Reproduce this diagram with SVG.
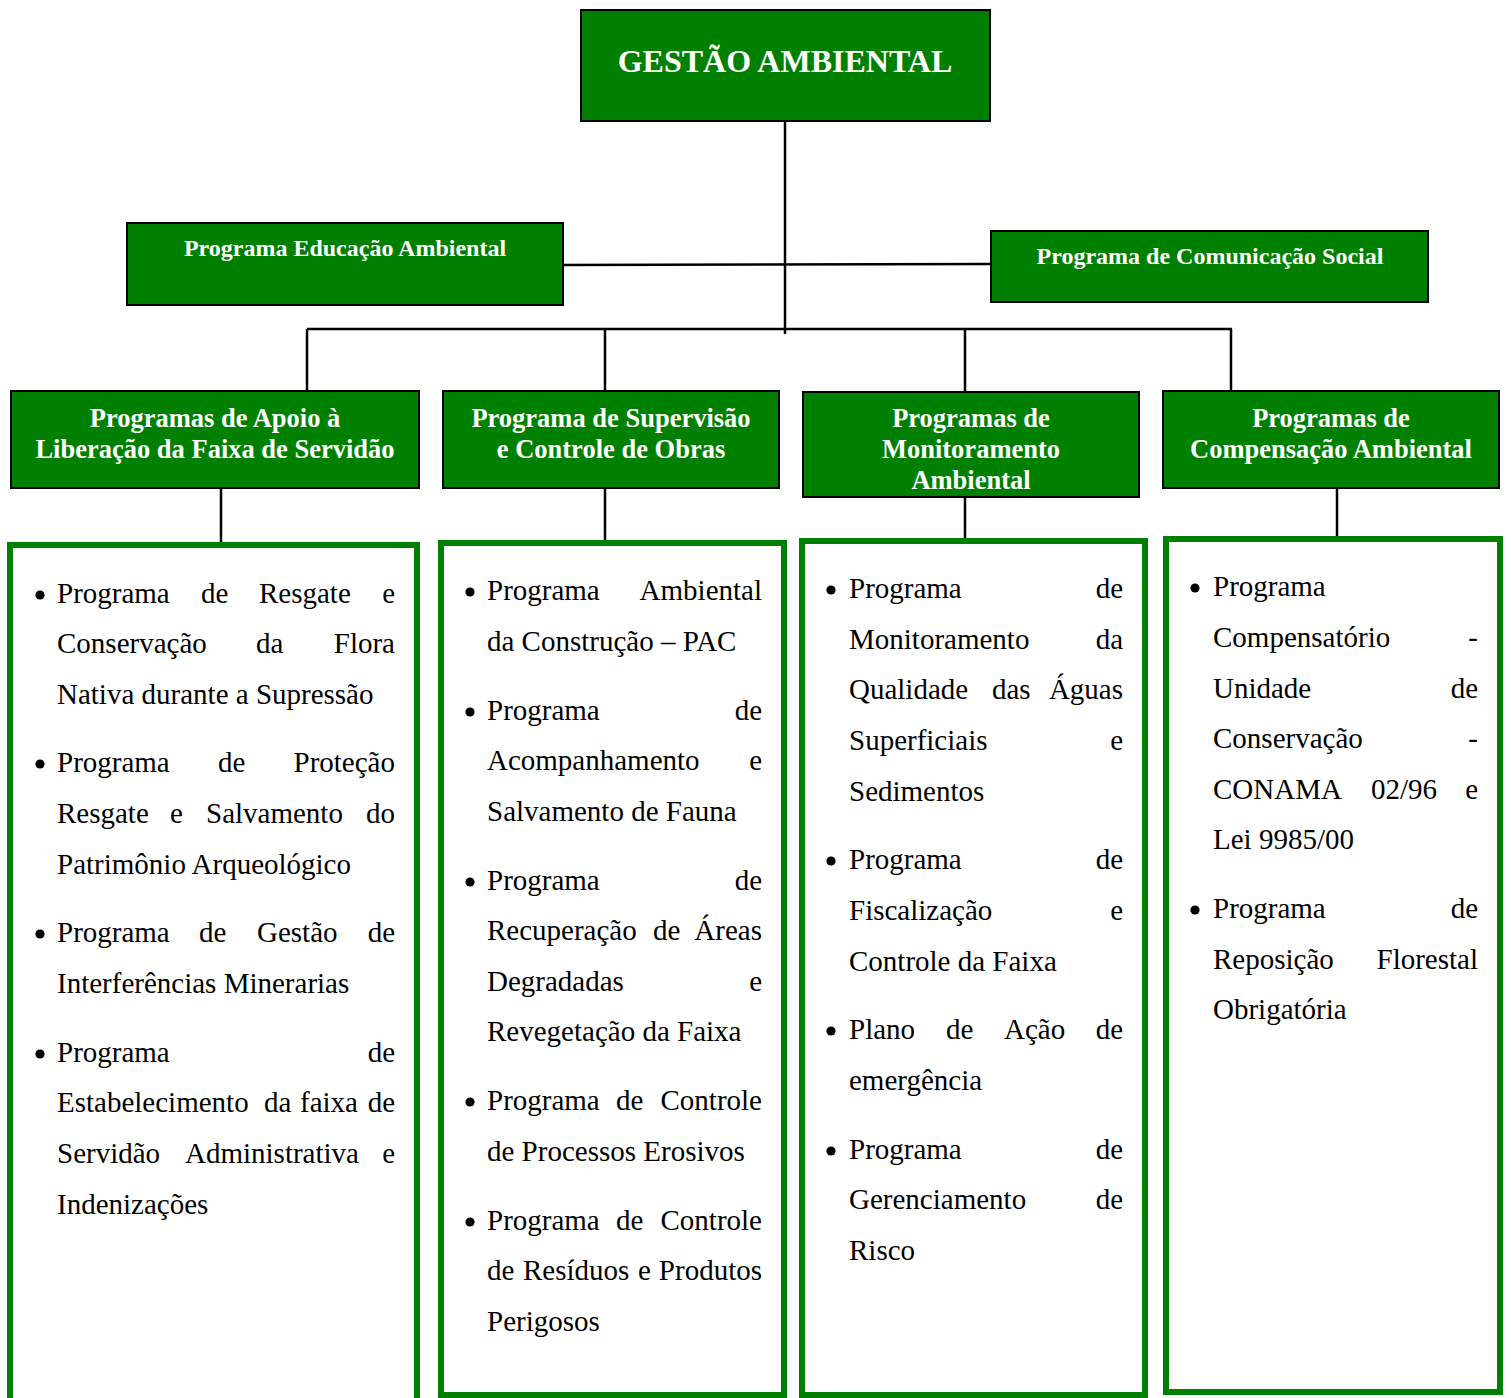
<svg xmlns="http://www.w3.org/2000/svg" width="1511" height="1398" viewBox="0 0 1511 1398">
<style>
.hb{fill:#008000;stroke:#000;stroke-width:2}
.lb{fill:#fff;stroke:#008000;stroke-width:6}
.h{font-family:"Liberation Serif","Times New Roman",serif;font-weight:bold;fill:#fff;text-anchor:middle}
.t{font-family:"Liberation Serif","Times New Roman",serif;font-size:29px;fill:#000}
.e{text-anchor:end}
.c{stroke:#000;stroke-width:2.5;fill:none}
.b{fill:#000}
</style>
<defs><circle id="bul" r="4.6" class="b"/></defs>
<rect width="1511" height="1398" fill="#fff"/>
<g id="connectors">
<line class="c" x1="785" y1="114" x2="785" y2="334"/>
<line class="c" x1="558" y1="265" x2="992" y2="264"/>
<line class="c" x1="307" y1="329" x2="1232" y2="329"/>
<line class="c" x1="307" y1="329" x2="307" y2="392"/>
<line class="c" x1="605" y1="329" x2="605" y2="392"/>
<line class="c" x1="965" y1="329" x2="965" y2="393"/>
<line class="c" x1="1231" y1="329" x2="1231" y2="392"/>
<line class="c" x1="221" y1="488" x2="221" y2="543"/>
<line class="c" x1="605" y1="488" x2="605" y2="541"/>
<line class="c" x1="965" y1="497" x2="965" y2="539"/>
<line class="c" x1="1337" y1="488" x2="1337" y2="537"/>
</g>
<g id="gestao">
<rect class="hb" x="581" y="10" width="409" height="111"/>
<text class="h" x="785" y="72" font-size="32">GESTÃO AMBIENTAL</text>
</g>
<g id="educacao">
<rect class="hb" x="127" y="223" width="436" height="82"/>
<text class="h" x="345" y="256" font-size="24">Programa Educação Ambiental</text>
</g>
<g id="comunicacao">
<rect class="hb" x="991" y="231" width="437" height="71"/>
<text class="h" x="1210" y="264" font-size="24">Programa de Comunicação Social</text>
</g>
<g id="apoio">
<rect class="hb" x="11" y="391" width="408" height="97"/>
<text class="h" x="215" y="427" font-size="26.5">Programas de Apoio à</text>
<text class="h" x="215" y="458" font-size="26.5">Liberação da Faixa de Servidão</text>
</g>
<g id="supervisao">
<rect class="hb" x="443" y="391" width="336" height="97"/>
<text class="h" x="611" y="427" font-size="26.5">Programa de Supervisão</text>
<text class="h" x="611" y="458" font-size="26.5">e Controle de Obras</text>
</g>
<g id="monitoramento">
<rect class="hb" x="803" y="392" width="336" height="105"/>
<text class="h" x="971" y="427" font-size="26.5">Programas de</text>
<text class="h" x="971" y="458" font-size="26.5">Monitoramento</text>
<text class="h" x="971" y="489" font-size="26.5">Ambiental</text>
</g>
<g id="compensacao">
<rect class="hb" x="1163" y="391" width="336" height="97"/>
<text class="h" x="1331" y="427" font-size="26.5">Programas de</text>
<text class="h" x="1331" y="458" font-size="26.5">Compensação Ambiental</text>
</g>
<g id="lista-apoio">
<rect class="lb" x="10" y="545" width="407" height="870"/>
<use href="#bul" x="40" y="595"/><use href="#bul" x="40" y="764"/><use href="#bul" x="40" y="934"/><use href="#bul" x="40" y="1054"/>
<g class="t">
<text x="57" y="603">Programa</text><text x="201" y="603">de</text><text x="259" y="603">Resgate</text><text class="e" x="395" y="603">e</text>
<text x="57" y="653">Conservação</text><text x="256" y="653">da</text><text class="e" x="395" y="653">Flora</text>
<text x="57" y="704">Nativa durante a Supressão</text>
<text x="57" y="772">Programa</text><text x="218" y="772">de</text><text class="e" x="395" y="772">Proteção</text>
<text x="57" y="823">Resgate</text><text x="170" y="823">e</text><text x="206" y="823">Salvamento</text><text class="e" x="395" y="823">do</text>
<text x="57" y="874">Patrimônio Arqueológico</text>
<text x="57" y="942">Programa</text><text x="199" y="942">de</text><text x="257" y="942">Gestão</text><text class="e" x="395" y="942">de</text>
<text x="57" y="993">Interferências Minerarias</text>
<text x="57" y="1062">Programa</text><text class="e" x="395" y="1062">de</text>
<text x="57" y="1112">Estabelecimento</text><text x="264" y="1112">da</text><text x="300" y="1112">faixa</text><text class="e" x="395" y="1112">de</text>
<text x="57" y="1163">Servidão</text><text x="185" y="1163">Administrativa</text><text class="e" x="395" y="1163">e</text>
<text x="57" y="1214">Indenizações</text>
</g>
</g>
<g id="lista-supervisao">
<rect class="lb" x="441" y="543" width="343" height="852"/>
<use href="#bul" x="470" y="592"/><use href="#bul" x="470" y="712"/><use href="#bul" x="470" y="882"/><use href="#bul" x="470" y="1102"/><use href="#bul" x="470" y="1222"/>
<g class="t">
<text x="487" y="600">Programa</text><text class="e" x="762" y="600">Ambiental</text>
<text x="487" y="651">da Construção – PAC</text>
<text x="487" y="720">Programa</text><text class="e" x="762" y="720">de</text>
<text x="487" y="770">Acompanhamento</text><text class="e" x="762" y="770">e</text>
<text x="487" y="821">Salvamento de Fauna</text>
<text x="487" y="890">Programa</text><text class="e" x="762" y="890">de</text>
<text x="487" y="940">Recuperação</text><text x="653" y="940">de</text><text class="e" x="762" y="940">Áreas</text>
<text x="487" y="991">Degradadas</text><text class="e" x="762" y="991">e</text>
<text x="487" y="1041">Revegetação da Faixa</text>
<text x="487" y="1110">Programa</text><text x="616" y="1110">de</text><text class="e" x="762" y="1110">Controle</text>
<text x="487" y="1161">de Processos Erosivos</text>
<text x="487" y="1230">Programa</text><text x="616" y="1230">de</text><text class="e" x="762" y="1230">Controle</text>
<text x="487" y="1280">de</text><text x="523" y="1280">Resíduos</text><text x="638" y="1280">e</text><text class="e" x="762" y="1280">Produtos</text>
<text x="487" y="1331">Perigosos</text>
</g>
</g>
<g id="lista-monitoramento">
<rect class="lb" x="802" y="541" width="343" height="854"/>
<use href="#bul" x="831" y="590"/><use href="#bul" x="831" y="861"/><use href="#bul" x="831" y="1031"/><use href="#bul" x="831" y="1151"/>
<g class="t">
<text x="849" y="598">Programa</text><text class="e" x="1123" y="598">de</text>
<text x="849" y="649">Monitoramento</text><text class="e" x="1123" y="649">da</text>
<text x="849" y="699">Qualidade</text><text x="992" y="699">das</text><text class="e" x="1123" y="699">Águas</text>
<text x="849" y="750">Superficiais</text><text class="e" x="1123" y="750">e</text>
<text x="849" y="801">Sedimentos</text>
<text x="849" y="869">Programa</text><text class="e" x="1123" y="869">de</text>
<text x="849" y="920">Fiscalização</text><text class="e" x="1123" y="920">e</text>
<text x="849" y="971">Controle da Faixa</text>
<text x="849" y="1039">Plano</text><text x="946" y="1039">de</text><text x="1004" y="1039">Ação</text><text class="e" x="1123" y="1039">de</text>
<text x="849" y="1090">emergência</text>
<text x="849" y="1159">Programa</text><text class="e" x="1123" y="1159">de</text>
<text x="849" y="1209">Gerenciamento</text><text class="e" x="1123" y="1209">de</text>
<text x="849" y="1260">Risco</text>
</g>
</g>
<g id="lista-compensacao">
<rect class="lb" x="1166" y="539" width="334" height="853"/>
<use href="#bul" x="1195" y="588"/><use href="#bul" x="1195" y="910"/>
<g class="t">
<text x="1213" y="596">Programa</text>
<text x="1213" y="647">Compensatório</text><text class="e" x="1478" y="647">-</text>
<text x="1213" y="698">Unidade</text><text class="e" x="1478" y="698">de</text>
<text x="1213" y="748">Conservação</text><text class="e" x="1478" y="748">-</text>
<text x="1213" y="799">CONAMA</text><text x="1371" y="799">02/96</text><text class="e" x="1478" y="799">e</text>
<text x="1213" y="849">Lei 9985/00</text>
<text x="1213" y="918">Programa</text><text class="e" x="1478" y="918">de</text>
<text x="1213" y="969">Reposição</text><text class="e" x="1478" y="969">Florestal</text>
<text x="1213" y="1019">Obrigatória</text>
</g>
</g>
</svg>
